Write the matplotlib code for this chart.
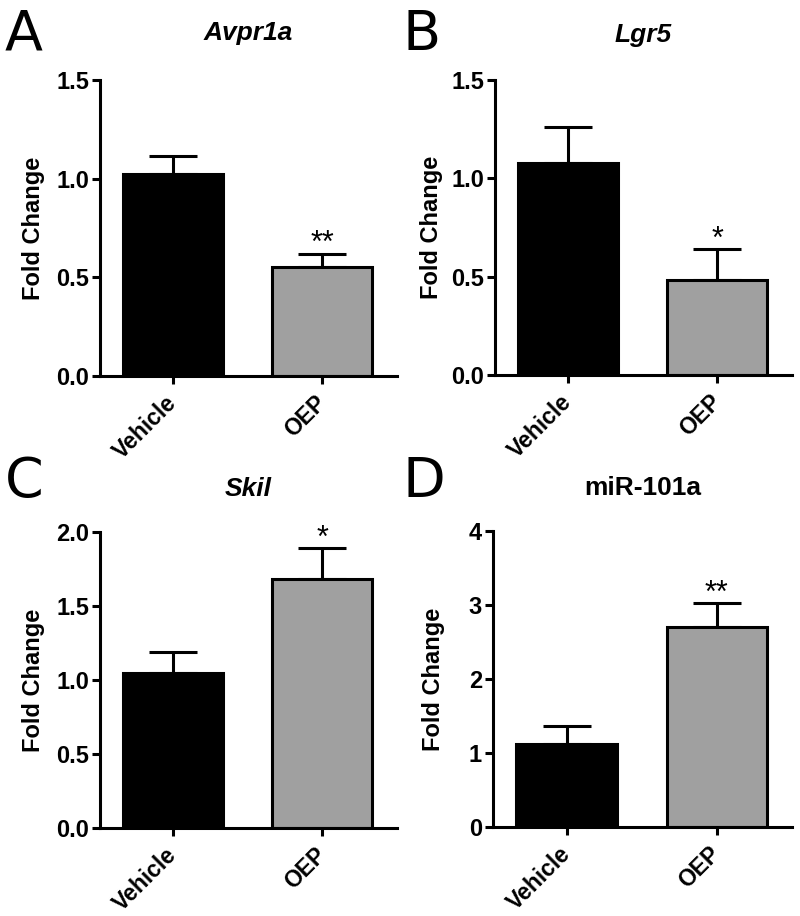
import matplotlib
matplotlib.use('Agg')
import matplotlib.pyplot as plt

# data (mean, SEM)
groups = ['Vehicle', 'OEP']
genes = ['Avpr1a', 'Lgr5', 'Skil', 'miR-101a']
italic = [True, True, True, False]
panel_letters = ['A', 'B', 'C', 'D']
means = [[1.025, 0.55], [1.08, 0.485], [1.05, 1.685], [1.115, 2.70]]
sems = [[0.09, 0.07], [0.18, 0.155], [0.14, 0.205], [0.25, 0.325]]
stars = [['', '**'], ['', '*'], ['', '*'], ['', '**']]
ymax = [1.5, 1.5, 2.0, 4.0]
yticks = [[0.0, 0.5, 1.0, 1.5], [0.0, 0.5, 1.0, 1.5],
          [0.0, 0.5, 1.0, 1.5, 2.0], [0, 1, 2, 3, 4]]
yticklabels = [['0.0', '0.5', '1.0', '1.5'], ['0.0', '0.5', '1.0', '1.5'],
               ['0.0', '0.5', '1.0', '1.5', '2.0'], ['0', '1', '2', '3', '4']]
bar_colors = ['black', '#a0a0a0']

plt.rcParams['font.family'] = ['Liberation Sans', 'DejaVu Sans']

fig = plt.figure(figsize=(8, 9.16), dpi=100)
W, H = 800, 916
# axes boxes in pixels: left, right, top, bottom
boxes = [(100, 397, 80, 376), (495, 792, 80, 375),
         (100, 397, 532, 828), (493, 792, 531, 827)]
letter_pos = [(5, 50), (403, 50), (5, 497), (403, 497)]
title_y = [1.135, 1.13, 1.12, 1.12]
ylabel_x = [-0.185, -0.175, -0.185, -0.16]

lw = 2.2
for i in range(4):
    l, r, t, b = boxes[i]
    ax = fig.add_axes([l / W, 1 - b / H, (r - l) / W, (b - t) / H])
    x = [0, 1]
    ax.errorbar(x, means[i], yerr=[[0, 0], sems[i]], fmt='none', ecolor='black',
                elinewidth=lw, capsize=17, capthick=lw, zorder=1)
    ax.bar(x, means[i], width=0.67, color=bar_colors, edgecolor='black',
           linewidth=lw, zorder=2)
    for j in range(2):
        if stars[i][j]:
            ax.annotate(stars[i][j], (x[j], means[i][j] + sems[i][j]),
                        xytext=(0, 1), textcoords='offset points',
                        ha='center', va='baseline', fontsize=22)
    ax.set_xlim(-0.49, 1.5)
    ax.set_ylim(0, ymax[i])
    ax.set_yticks(yticks[i])
    ax.set_yticklabels(yticklabels[i], fontsize=17, fontweight='bold')
    ax.set_xticks(x)
    ax.set_xticklabels(groups, fontsize=16.5, fontweight='bold', rotation=45,
                       ha='right', va='center', rotation_mode='anchor')
    ax.tick_params(axis='both', width=lw, length=6, pad=2)
    ax.tick_params(axis='x', pad=11)
    for s in ['top', 'right']:
        ax.spines[s].set_visible(False)
    for s in ['left', 'bottom']:
        ax.spines[s].set_linewidth(lw)
    ax.set_ylabel('Fold Change', fontsize=17, fontweight='bold')
    ax.yaxis.set_label_coords(ylabel_x[i], 0.5)
    ax.text(0.5, title_y[i], genes[i], transform=ax.transAxes, ha='center',
            va='baseline', fontsize=19, fontweight='bold',
            fontstyle='italic' if italic[i] else 'normal')
    fig.text(letter_pos[i][0] / W, 1 - letter_pos[i][1] / H, panel_letters[i],
             fontsize=40, family='DejaVu Sans', va='baseline', ha='left')

fig.savefig('out.png', dpi=100)
